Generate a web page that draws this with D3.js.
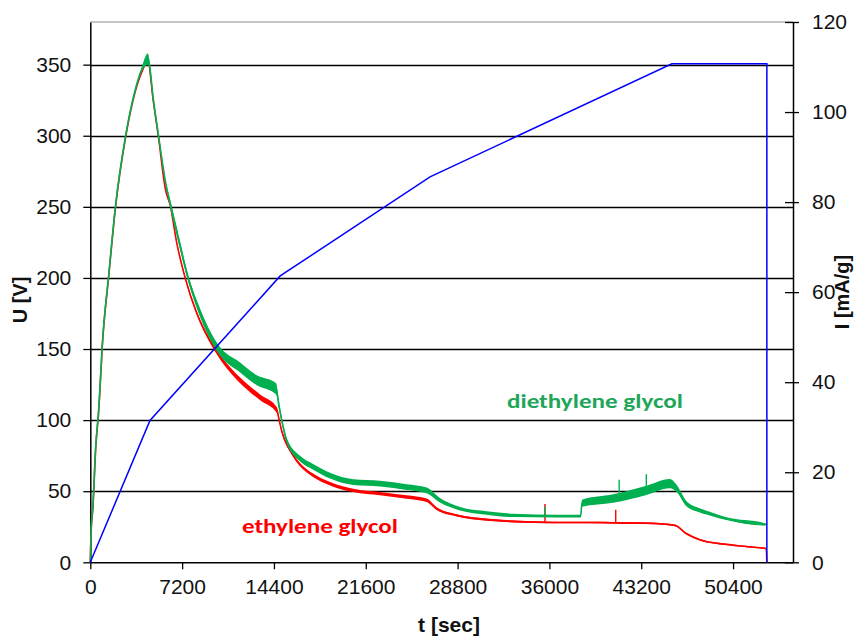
<!DOCTYPE html>
<html>
<head>
<meta charset="utf-8">
<script src="https://cdn.jsdelivr.net/npm/d3@7"></script>
<style>
  body { margin: 0; background: #fff; }
  svg { display: block; }
</style>
</head>
<body>
<svg id="chart" width="860" height="639"></svg>
<script>
// Cell voltage U [V] vs time for ethylene glycol (red) and diethylene glycol (green)
const egT = [0, 60, 210, 415, 680, 940, 1465, 1980, 2770, 3350, 4000, 4520, 4930, 5330, 5900, 6270, 6770, 7440, 8360, 9770, 11750, 13320, 14630, 14810, 15020, 15670, 16170, 17500, 18800, 20630, 22720, 24810, 26370, 27160, 28730, 31080, 34730, 36560, 39000, 41000, 43600, 45830, 46750, 47790, 49880, 51500, 53000, 53050];
const egU = [0, 20, 39, 79, 109, 152, 203, 250, 299, 325, 344, 352, 325, 300, 262, 251, 225, 200, 175, 150, 128, 116, 107, 100, 92, 78.7, 71.7, 61, 55.3, 50.6, 48.3, 45.9, 43.6, 37.7, 33, 30, 28.3, 28, 28, 27.8, 27.5, 26, 20.1, 15.9, 12.6, 11, 9.6, 0];
// half-width of the scatter band around the red trace
const egSpread = [0, 0.4, 0.4, 0.4, 0.4, 0.4, 0.4, 0.4, 0.4, 0.4, 0.6, 1.2, 0.8, 0.8, 0.8, 0.8, 0.8, 1, 1.2, 1.5, 2, 2, 2, 1.2, 1.2, 1.2, 1.2, 1.2, 1.2, 1.2, 1.2, 1.2, 1.2, 1, 0.8, 0.8, 0.6, 0.6, 0.6, 0.6, 0.6, 0.6, 0.6, 0.5, 0.5, 0.5, 0.5, 0];
const egSpikeT = [35650, 41200];
const egSpikeBase = [28.3, 27.8];
const egSpikeU = [41, 37];

const degT = [0, 60, 210, 415, 680, 940, 1465, 1980, 2770, 3350, 4000, 4520, 4600, 4950, 5350, 5950, 6300, 6900, 7670, 8500, 10030, 11750, 13060, 14570, 14800, 15010, 15400, 16450, 17500, 18800, 20630, 22720, 24810, 26370, 27420, 28990, 31080, 33160, 36560, 38450, 38550, 41000, 43610, 45440, 45970, 46750, 47790, 48840, 49880, 52890, 53050];
const degU = [0, 22, 40, 80, 110, 153, 204, 251, 300, 326, 346, 354, 352, 325, 300, 265, 251, 228, 200, 178, 150, 137, 128, 122, 110, 100, 85.7, 72.9, 67, 61, 56.4, 55.3, 52.9, 50.6, 43.6, 37.7, 34.7, 33, 32.5, 32.5, 41.5, 44.8, 50.6, 55.3, 52, 41.2, 36.5, 33.5, 30.7, 26.7, 26.7];
// half-width of the scatter band around the green trace
const degSpread = [0, 0.5, 0.5, 0.5, 0.5, 0.5, 0.5, 0.5, 0.6, 0.8, 1.2, 4, 3, 1.2, 1.2, 1.5, 2.5, 3, 2.5, 3, 3, 3.5, 3.5, 4, 2.5, 1.8, 1.8, 2, 2, 2, 2, 2, 2, 2, 1.6, 1.2, 1.2, 1.2, 1, 1, 2.5, 3, 3.2, 3.2, 2.5, 1.8, 1.5, 1.2, 1, 0.8, 0];
const degSpikeT = [35650, 41470, 43600];
const degSpikeBase = [32.5, 46, 50.6];
const degSpikeU = [39, 58, 62];

// Specific current I [mA/g] (blue, right axis)
const curT = [0, 4680, 14890, 26640, 45600, 53050, 53050];
const curI = [0, 31.5, 63.6, 85.6, 110.7, 110.7, 0];

// Axis ticks
const xTicks = [0, 7200, 14400, 21600, 28800, 36000, 43200, 50400];
const uTicks = [0, 50, 100, 150, 200, 250, 300, 350];
const iTicks = [0, 20, 40, 60, 80, 100, 120];
const gridValues = [50, 100, 150, 200, 250, 300, 350];

const colors = { eg: "#ff0000", deg: "#00b050", cur: "#0000ff", degText: "#1fa65a" };

(function draw() {
  const svg = d3.select("#chart");
  const plotLeft = 90.3, plotRight = 793, plotTop = 22, plotBottom = 562.3;

  const x = d3.scaleLinear().domain([0, 55100]).range([plotLeft, plotRight]);
  const yU = d3.scaleLinear().domain([0, 380]).range([plotBottom, plotTop]);
  const yI = d3.scaleLinear().domain([0, 120]).range([plotBottom, plotTop]);

  const tickFont = "'Liberation Sans', Arial, sans-serif";
  const plain = d3.format("d");

  // top border of the plot area
  svg.append("line")
    .attr("x1", plotLeft).attr("x2", plotRight).attr("y1", plotTop).attr("y2", plotTop)
    .attr("stroke", "#8c8c8c").attr("stroke-width", 1.2);

  // horizontal gridlines
  svg.append("g").selectAll("line").data(gridValues).join("line")
    .attr("x1", plotLeft).attr("x2", plotRight)
    .attr("y1", d => Math.round(yU(d)) + 0.5).attr("y2", d => Math.round(yU(d)) + 0.5)
    .attr("stroke", "#000").attr("stroke-width", 1.3);

  function styleAxis(g) {
    g.selectAll("path.domain").attr("stroke", "#000").attr("stroke-width", 1.5);
    g.selectAll(".tick line").attr("stroke", "#000").attr("stroke-width", 1.3);
    g.selectAll(".tick text")
      .attr("font-family", tickFont).attr("font-size", 21).attr("fill", "#111");
  }

  svg.append("g").attr("transform", `translate(${plotLeft},0)`)
    .call(d3.axisLeft(yU).tickValues(uTicks).tickFormat(plain).tickSize(7).tickSizeOuter(0).tickPadding(12))
    .call(styleAxis);

  svg.append("g").attr("transform", `translate(0,${plotBottom})`)
    .call(d3.axisBottom(x).tickValues(xTicks).tickFormat(plain).tickSize(7).tickSizeOuter(0).tickPadding(10))
    .call(styleAxis);

  const rightAxis = svg.append("g").attr("transform", `translate(${plotRight},0)`)
    .call(d3.axisRight(yI).tickValues(iTicks).tickFormat(plain).tickSize(6).tickSizeOuter(0).tickPadding(13))
    .call(styleAxis);
  // inner half of the cross-shaped right ticks
  rightAxis.selectAll(".tick").append("line")
    .attr("x1", -8).attr("x2", 0)
    .attr("stroke", "#000").attr("stroke-width", 1.3);

  const curve = d3.curveMonotoneX;

  // Voltage traces: scatter band plus centre line
  function drawTrace(T, U, S, color) {
    const pts = T.map((t, i) => ({ t, u: U[i], s: S[i] }));
    svg.append("path").datum(pts)
      .attr("d", d3.area().curve(curve).x(d => x(d.t)).y0(d => yU(d.u - d.s)).y1(d => yU(d.u + d.s)))
      .attr("fill", color);
    svg.append("path").datum(pts)
      .attr("d", d3.line().curve(curve).x(d => x(d.t)).y(d => yU(d.u)))
      .attr("fill", "none").attr("stroke", color).attr("stroke-width", 1.6);
  }
  function drawSpikes(T, B, U, color) {
    svg.append("g").selectAll("line").data(T).join("line")
      .attr("x1", d => x(d)).attr("x2", d => x(d))
      .attr("y1", (d, i) => yU(B[i])).attr("y2", (d, i) => yU(U[i]))
      .attr("stroke", color).attr("stroke-width", 1.4);
  }

  drawTrace(egT, egU, egSpread, colors.eg);
  drawSpikes(egSpikeT, egSpikeBase, egSpikeU, colors.eg);
  drawTrace(degT, degU, degSpread, colors.deg);
  drawSpikes(degSpikeT, degSpikeBase, degSpikeU, colors.deg);

  // Current on the secondary axis
  svg.append("path").datum(curT.map((t, i) => ({ t, v: curI[i] })))
    .attr("d", d3.line().x(d => x(d.t)).y(d => yI(d.v)))
    .attr("fill", "none").attr("stroke", colors.cur).attr("stroke-width", 1.5);

  // Axis titles
  const titleFont = "'Liberation Sans', Arial, sans-serif";
  svg.append("text").text("U [V]")
    .attr("transform", "translate(27,300) rotate(-90)")
    .attr("text-anchor", "middle").attr("font-family", titleFont)
    .attr("font-weight", "bold").attr("font-size", 20).attr("fill", "#111");
  svg.append("text").text("I [mA/g]")
    .attr("transform", "translate(849,292) rotate(-90)")
    .attr("text-anchor", "middle").attr("font-family", titleFont)
    .attr("font-weight", "bold").attr("font-size", 20).attr("fill", "#111");
  svg.append("text").text("t [sec]")
    .attr("x", 449).attr("y", 632)
    .attr("text-anchor", "middle").attr("font-family", titleFont)
    .attr("font-weight", "bold").attr("font-size", 21).attr("fill", "#111");

  // Series labels
  const labelFont = "Carlito, Calibri, Lato, 'Open Sans', sans-serif";
  svg.append("text").text("diethylene glycol")
    .attr("x", 507).attr("y", 408)
    .attr("textLength", 176).attr("lengthAdjust", "spacingAndGlyphs")
    .attr("font-family", labelFont).attr("font-weight", "bold").attr("font-size", 21)
    .attr("fill", colors.degText);
  svg.append("text").text("ethylene glycol")
    .attr("x", 242).attr("y", 533)
    .attr("textLength", 156).attr("lengthAdjust", "spacingAndGlyphs")
    .attr("font-family", labelFont).attr("font-weight", "bold").attr("font-size", 21)
    .attr("fill", colors.eg);
})();
</script>
</body>
</html>
